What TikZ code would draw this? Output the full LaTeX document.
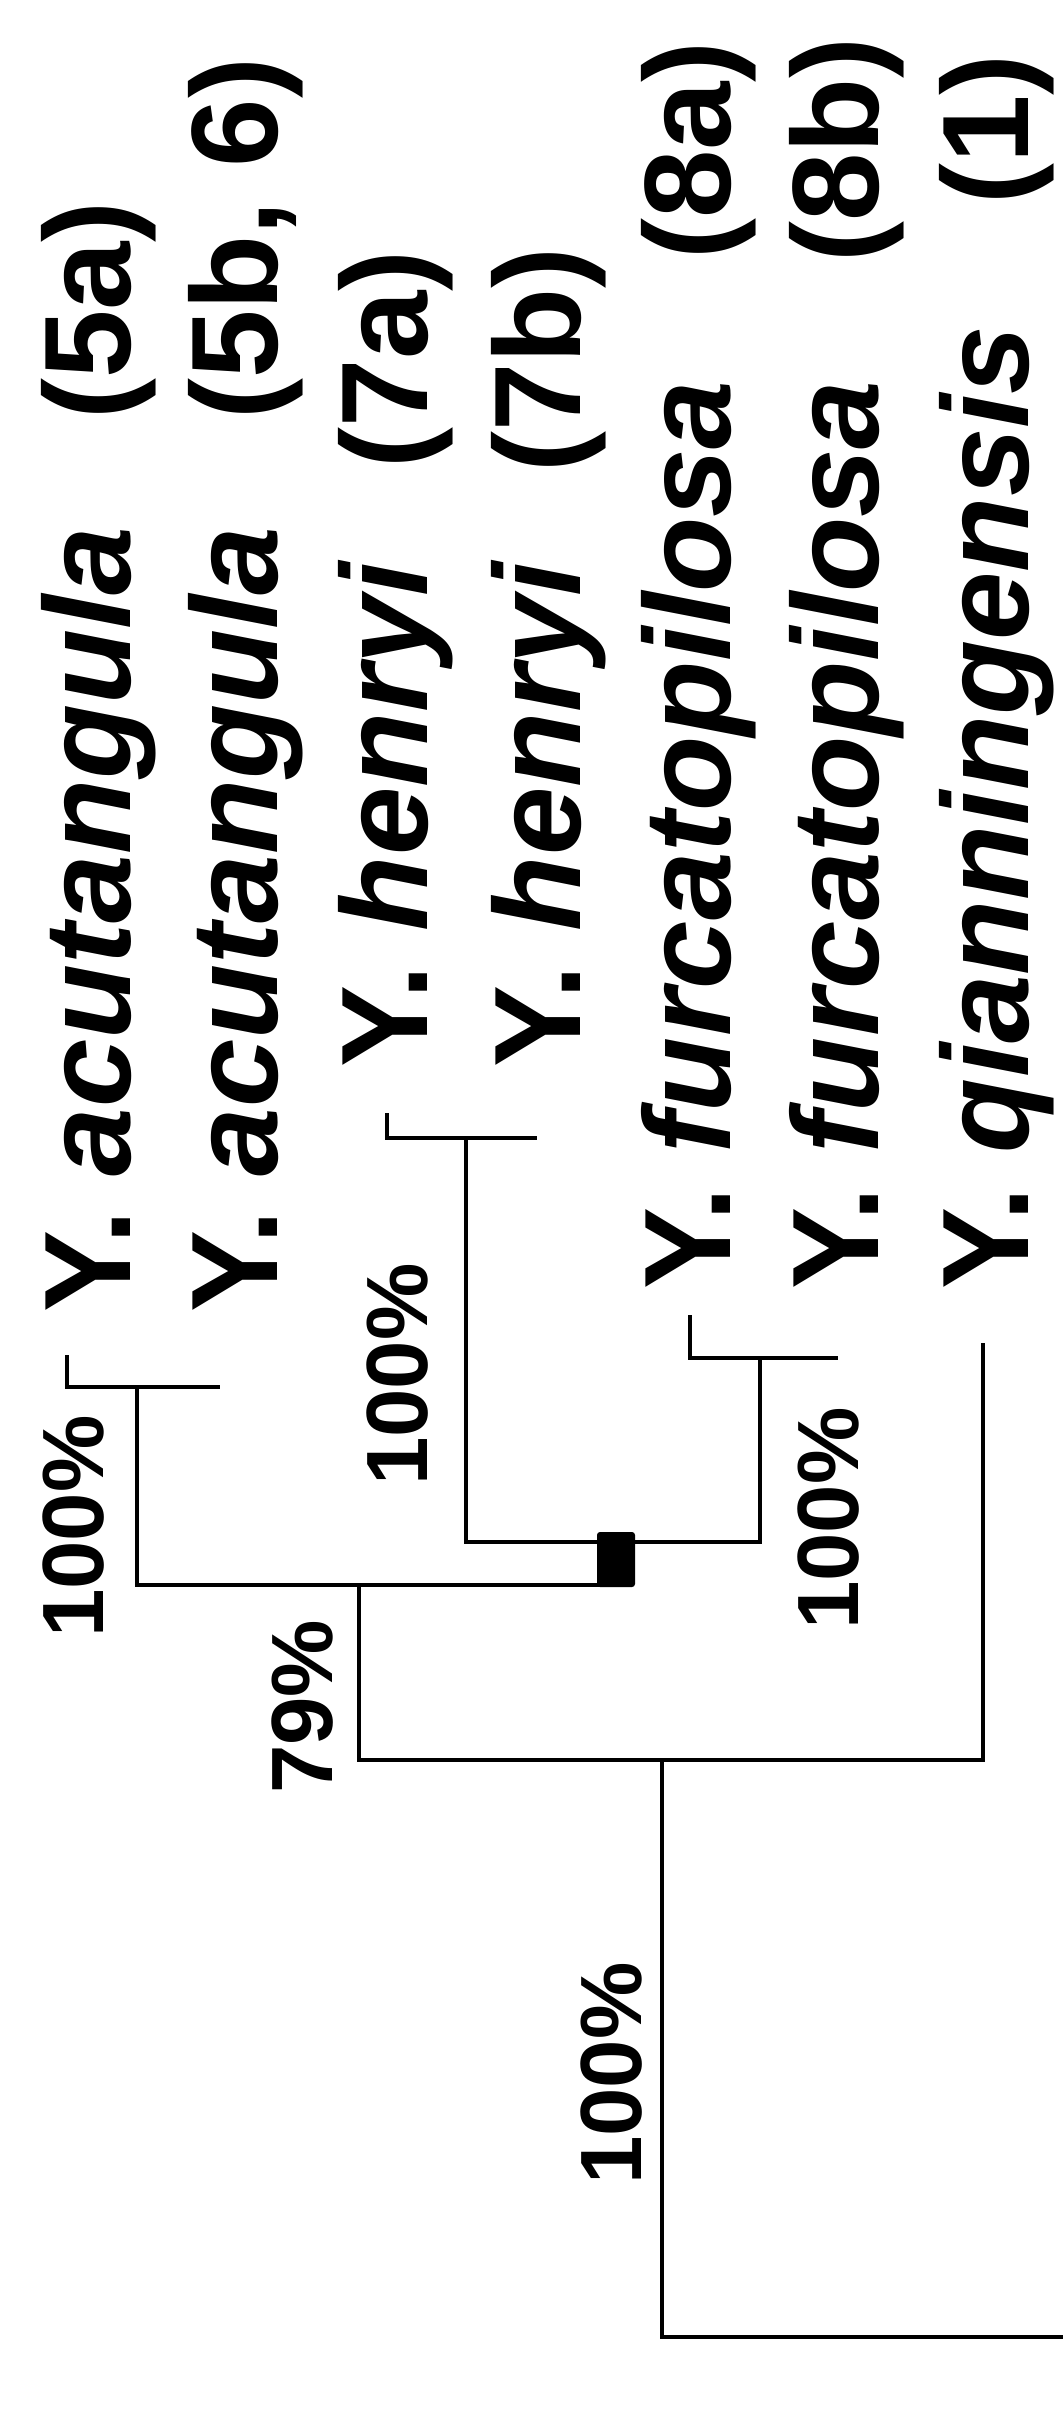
\documentclass[tikz,border=0pt]{standalone}
\usepackage{fontspec}
\setmainfont{Liberation Sans}
\begin{document}
\begin{tikzpicture}[x=1pt,y=1pt,
  branch/.style={line width=4.5pt, line join=miter},
  taxon/.style={rotate=90, anchor=base west, inner sep=0pt,
    font=\fontsize{123}{130}\selectfont\bfseries},
  sample/.style={rotate=90, anchor=base west, inner sep=0pt,
    font=\fontsize{123}{130}\selectfont\bfseries},
  support/.style={rotate=90, anchor=base west, inner sep=0pt,
    font=\fontsize{87}{95}\selectfont\bfseries}]

% page
\fill[white] (0,0) rectangle (1063,-2432);
\useasboundingbox (0,0) rectangle (1063,-2432);

% taxon names (read bottom to top)
\node[taxon] (n1) at (130,-1313) {Y. \textit{acutangula}};
\node[taxon] (n2) at (277,-1313) {Y. \textit{acutangula}};
\node[taxon] (n3) at (427,-1068) {Y. \textit{henryi}};
\node[taxon] (n4) at (580,-1068) {Y. \textit{henryi}};
\node[taxon] (n5) at (730,-1290) {Y. \textit{furcatopilosa}};
\node[taxon] (n6) at (878,-1290) {Y. \textit{furcatopilosa}};
\node[taxon] (n7) at (1028,-1290) {Y. \textit{qianningensis}};

% sample numbers
\node[sample] (s1) at (130,-420) {(5a)};
\node[sample] (s2) at (277,-420) {(5b, 6)};
\node[sample] (s3) at (427,-469) {(7a)};
\node[sample] (s4) at (580,-473) {(7b)};
\node[sample] (s5) at (730,-260) {(8a)};
\node[sample] (s6) at (878,-263) {(8b)};
\node[sample] (s7) at (1028,-205) {(1)};

% tips
\coordinate (t1) at (67,-1355);
\coordinate (t2) at (220,-1387);
\coordinate (t3) at (387,-1113);
\coordinate (t4) at (537,-1138);
\coordinate (t5) at (690,-1315);
\coordinate (t6) at (838,-1358);
\coordinate (t7) at (983,-1343);

% internal nodes and corners
\coordinate (acut) at (137,-1387);
\coordinate (henr) at (466,-1138);
\coordinate (furc) at (760,-1358);
\coordinate (hfL) at (466,-1542);
\coordinate (hfR) at (760,-1542);
\coordinate (acL) at (137,-1585);
\coordinate (acR) at (616,-1585);
\coordinate (in79) at (359,-1585);
\coordinate (inL) at (359,-1760);
\coordinate (inR) at (983,-1760);
\coordinate (root) at (662,-1760);
\coordinate (rootB) at (662,-2337);
\coordinate (rootE) at (1063,-2337);

% thick branch of the henryi + furcatopilosa clade
\node[fill=black, minimum width=38pt, minimum height=55pt, inner sep=0pt,
      rounded corners=3pt] (hf) at (616,-1559.5) {};

% branches
\draw[branch] (t1) |- (t2);
\draw[branch] (t3) |- (t4);
\draw[branch] (t5) |- (t6);
\draw[branch] (acut) -- (acL) -- (acR);
\draw[branch] (henr) -- (hfL) -- (hfR) -- (furc);
\draw[branch] (in79) -- (inL) -- (inR) -- (t7);
\draw[branch] (root) -- (rootB) -- (rootE);

% support values
\node[support] (b1) at (103,-1638) {100\%};
\node[support] (b2) at (427,-1486) {100\%};
\node[support] (b3) at (858,-1630) {100\%};
\node[support] (b4) at (332,-1794) {79\%};
\node[support] (b5) at (641,-2185) {100\%};
\end{tikzpicture}
\end{document}
